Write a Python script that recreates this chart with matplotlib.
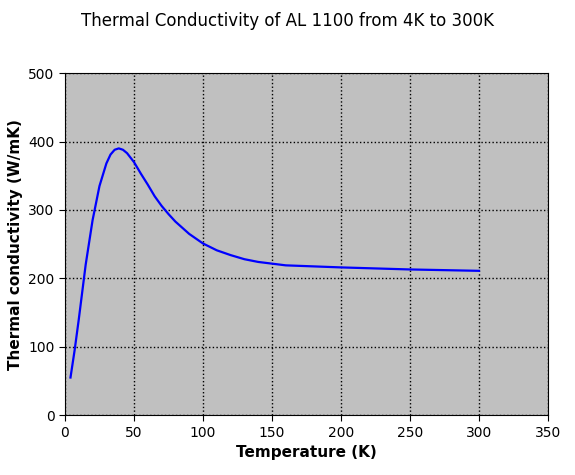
import matplotlib
matplotlib.use("Agg")
import matplotlib.pyplot as plt
import numpy as np

temps = [4, 7, 10, 15, 20, 25, 30, 33, 36, 39, 42, 45, 50, 55, 60, 65, 70, 75, 80, 90, 100, 110, 120, 130, 140, 160, 200, 250, 300]
cond = [55, 95, 140, 220, 285, 335, 368, 381, 388, 390, 388, 383, 370, 353, 337, 320, 306, 294, 283, 265, 251, 241, 234, 228, 224, 219, 216, 213, 211]

fig = plt.figure(figsize=(5.75, 4.75), dpi=100)
ax = fig.add_axes([0.113, 0.126, 0.84, 0.72])
ax.set_facecolor("#c0c0c0")
ax.plot(temps, cond, color="#0000ff", lw=1.6)
ax.set_xlim(0, 350)
ax.set_ylim(0, 500)
ax.set_xticks(np.arange(0, 351, 50))
ax.set_yticks(np.arange(0, 501, 100))
ax.grid(True, color="black", linestyle=":", lw=1)
ax.tick_params(labelsize=10, direction="out", length=4)
ax.set_xlabel("Temperature (K)", fontsize=11, fontweight="bold")
ax.set_ylabel("Thermal conductivity (W/mK)", fontsize=11, fontweight="bold")
fig.text(0.5, 0.955, "Thermal Conductivity of AL 1100 from 4K to 300K", ha="center", va="center", fontsize=12)
fig.savefig("out.png", dpi=100)
